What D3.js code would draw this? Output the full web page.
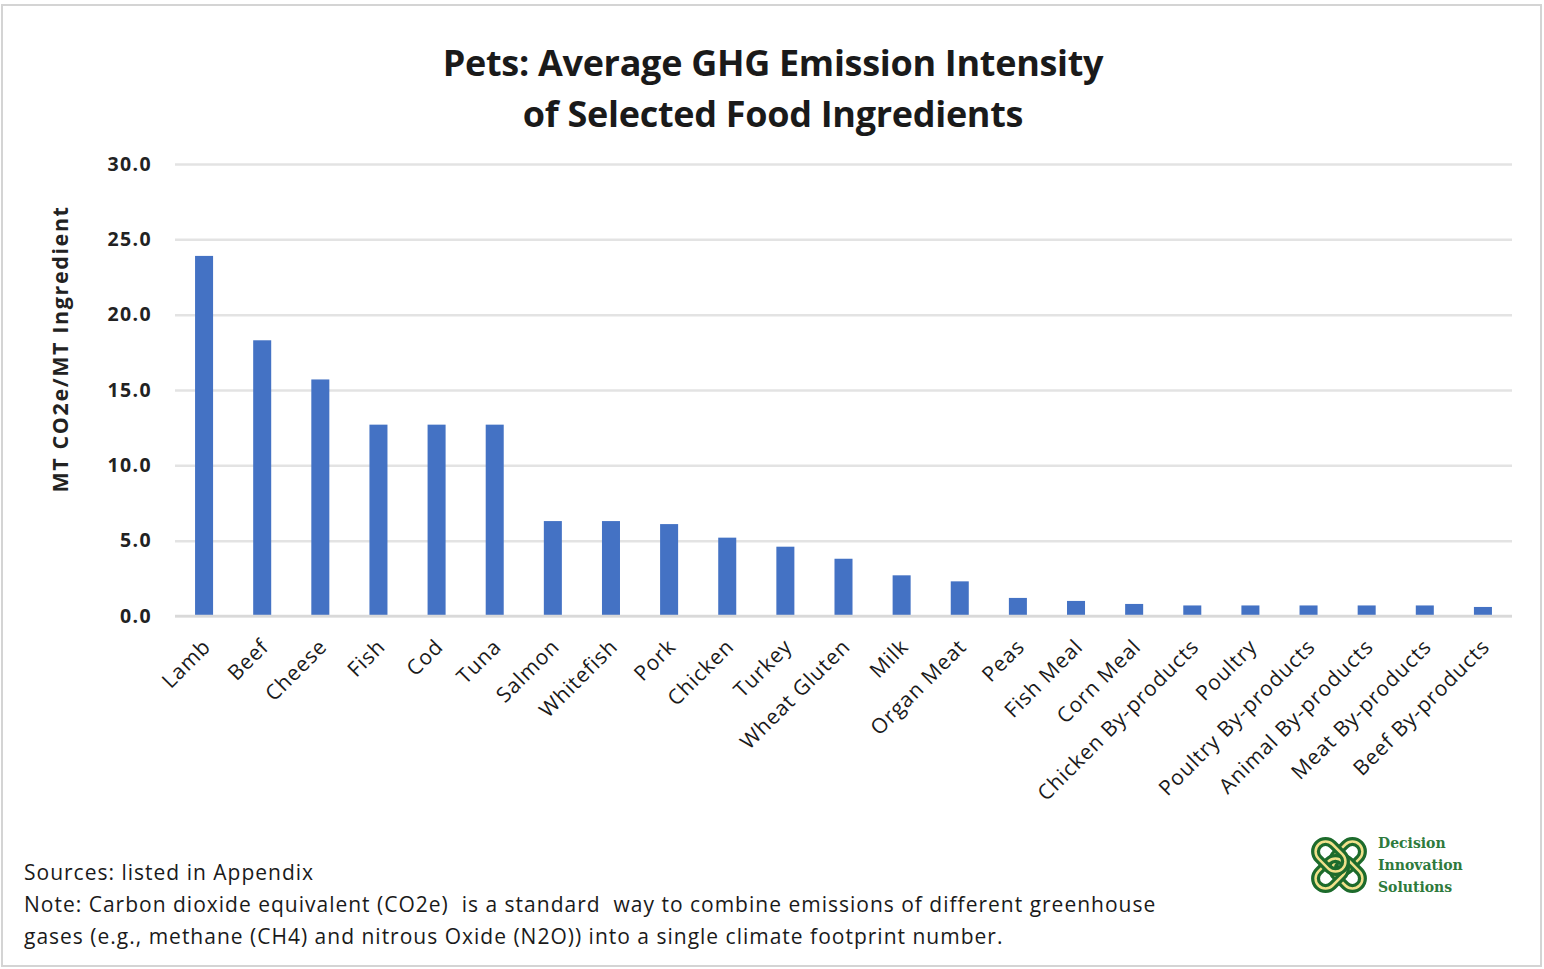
<!DOCTYPE html>
<html>
<head>
<meta charset="utf-8">
<script src="https://cdn.jsdelivr.net/npm/d3@7"></script>
<style>
  html, body { margin: 0; padding: 0; background: #fff; }
  svg { display: block; }
</style>
</head>
<body>
<script>
// Ingredients and their average emission intensity (MT CO2e / MT ingredient)
const categories = ["Lamb", "Beef", "Cheese", "Fish", "Cod", "Tuna", "Salmon", "Whitefish", "Pork",
  "Chicken", "Turkey", "Wheat Gluten", "Milk", "Organ Meat", "Peas", "Fish Meal", "Corn Meal",
  "Chicken By-products", "Poultry", "Poultry By-products", "Animal By-products",
  "Meat By-products", "Beef By-products"];
const values = [23.9, 18.3, 15.7, 12.7, 12.7, 12.7, 6.3, 6.3, 6.1, 5.2, 4.6, 3.8, 2.7, 2.3,
  1.2, 1.0, 0.8, 0.7, 0.7, 0.7, 0.7, 0.7, 0.6];
const yTicks = [0, 5, 10, 15, 20, 25, 30];
const titleLines = ["Pets: Average GHG Emission Intensity", "of Selected Food Ingredients"];
const yTitle = "MT CO2e/MT Ingredient";
const notes = [
  "Sources: listed in Appendix",
  "Note: Carbon dioxide equivalent (CO2e)  is a standard  way to combine emissions of different greenhouse",
  "gases (e.g., methane (CH4) and nitrous Oxide (N2O)) into a single climate footprint number."
];
const logoText = ["Decision", "Innovation", "Solutions"];

const W = 1544, H = 969;
const font = "'Open Sans', Lato, sans-serif";
const svg = d3.select("body").append("svg").attr("width", W).attr("height", H);

// outer frame
svg.append("rect").attr("x", 2).attr("y", 5).attr("width", W - 5).attr("height", H - 8)
  .attr("fill", "#fff").attr("stroke", "#d4d4d4").attr("stroke-width", 2);

const plot = { left: 175, right: 1512, top: 164, bottom: 616 };

const x = d3.scaleBand().domain(categories).range([plot.left, plot.right]).paddingInner(0.69).paddingOuter(0.345);
const y = d3.scaleLinear().domain([0, 30]).range([plot.bottom, plot.top]);

// title
svg.append("text").attr("text-anchor", "middle")
  .attr("font-family", font).attr("font-weight", "bold").attr("font-size", 36).attr("fill", "#1a1a1a")
  .attr("letter-spacing", -0.3)
  .selectAll("tspan").data(titleLines).join("tspan")
  .attr("x", 773).attr("y", (d, i) => 76 + i * 51).text(d => d);

// grid + y labels
const yAxis = d3.axisLeft(y).tickValues(yTicks).tickFormat(d3.format(".1f"))
  .tickSize(-(plot.right - plot.left)).tickPadding(23);
const gy = svg.append("g").attr("transform", `translate(${plot.left},0)`).call(yAxis);
gy.select(".domain").remove();
gy.selectAll(".tick line").attr("stroke", "#e3e3e3").attr("stroke-width", 2.5);
gy.selectAll(".tick text").attr("font-family", font).attr("font-weight", "bold")
  .attr("font-size", 19.5).attr("letter-spacing", 1.4).attr("fill", "#222");

svg.append("text").attr("transform", `translate(68,349) rotate(-90)`)
  .attr("text-anchor", "middle").attr("font-family", font).attr("font-weight", "bold")
  .attr("font-size", 21.5).attr("letter-spacing", 1.6).attr("fill", "#222").text(yTitle);

// bars
svg.append("g").selectAll("rect").data(categories).join("rect")
  .attr("x", d => x(d)).attr("width", x.bandwidth())
  .attr("y", (d, i) => y(values[i])).attr("height", (d, i) => y(0) - y(values[i]))
  .attr("fill", "#4472C4");

// x axis with rotated category labels
const xAxis = d3.axisBottom(x).tickSize(0).tickPadding(0);
const gx = svg.append("g").attr("transform", `translate(0,${plot.bottom})`).call(xAxis);
gx.select(".domain").attr("stroke", "#d9d9d9").attr("stroke-width", 2.5)
  .attr("d", `M${plot.left},0H${plot.right}`);
gx.selectAll(".tick text")
  .attr("font-family", font).attr("font-size", 21).attr("letter-spacing", 0.9).attr("fill", "#1a1a1a")
  .attr("text-anchor", "end").attr("dy", 0).attr("y", 0)
  .attr("transform", "translate(8,32) rotate(-45)");

// notes
svg.append("g").selectAll("text").data(notes).join("text")
  .attr("x", 24).attr("y", (d, i) => 880 + i * 32)
  .attr("font-family", font).attr("font-size", 21).attr("letter-spacing", 1.0).attr("fill", "#1a1a1a")
  .style("white-space", "pre").text(d => d);

// logo: interlocking knot
const logo = svg.append("g").attr("transform", "translate(1339,865)");
const loop = (rot) => {
  const g = logo.append("g").attr("transform", `rotate(${rot})`);
  g.append("rect").attr("x", -10).attr("y", -29).attr("width", 20).attr("height", 34).attr("rx", 10)
    .attr("fill", "none").attr("stroke", "#1d6b2c").attr("stroke-width", 9);
  g.append("rect").attr("x", -10).attr("y", -29).attr("width", 20).attr("height", 34).attr("rx", 10)
    .attr("fill", "none").attr("stroke", "#f0e08a").attr("stroke-width", 2.5);
};
[45, 135, 225, 315].forEach(loop);

svg.append("g").selectAll("text").data(logoText).join("text")
  .attr("x", 1378).attr("y", (d, i) => 848 + i * 22)
  .attr("font-family", "'DejaVu Serif', 'Liberation Serif', serif").attr("font-weight", "bold")
  .attr("font-size", 14).attr("fill", "#2e7a3c").text(d => d);
</script>
</body>
</html>
